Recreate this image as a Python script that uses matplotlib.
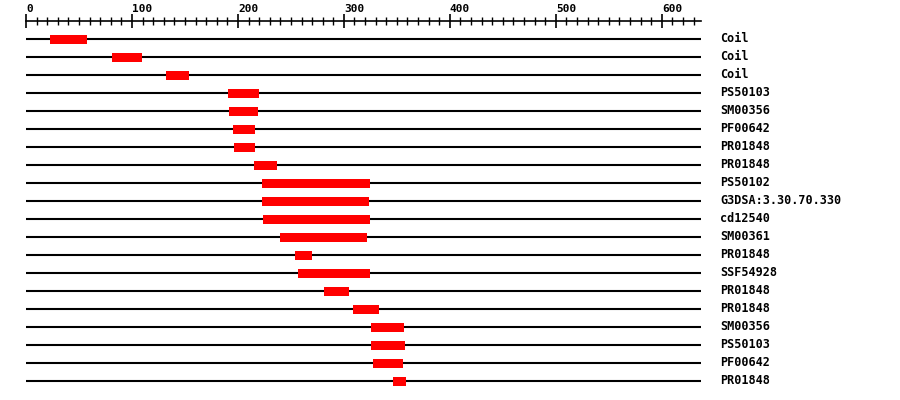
import matplotlib
matplotlib.use("Agg")
import matplotlib.pyplot as plt
from matplotlib.ticker import MultipleLocator

# domain hits along the protein sequence
labels = ["Coil", "Coil", "Coil", "PS50103", "SM00356", "PF00642", "PR01848",
          "PR01848", "PS50102", "G3DSA:3.30.70.330", "cd12540", "SM00361",
          "PR01848", "SSF54928", "PR01848", "PR01848", "SM00356", "PS50103",
          "PF00642", "PR01848"]
starts = [23, 81, 132, 191, 192, 195, 196, 215, 223, 223, 224, 240,
          254, 257, 281, 309, 326, 326, 327, 346]
ends = [58, 109, 154, 220, 219, 216, 216, 237, 325, 324, 325, 322,
        270, 325, 305, 333, 357, 358, 356, 359]
seq_len = 637

fig = plt.figure(figsize=(9, 4), dpi=100)
# axes placed in pixels: x 26..701, axis line at y=21, rows every 18px from y=39
ax = fig.add_axes([26 / 900, 0, 675 / 900, 379 / 400])
ax.set_xlim(0, seq_len)
ax.set_ylim((400 - 39) / 18, (21 - 39) / 18)

rows = list(range(len(labels)))
ax.hlines(rows, 0, seq_len, color="black", linewidth=1.5)
ax.barh(rows, [e - s for s, e in zip(starts, ends)], left=starts, height=0.5,
        color="#ff0000", zorder=3)

# names sit in a column to the right of the track, aligned with each row
mono = {"family": "DejaVu Sans Mono", "weight": "bold", "size": 8.5}
for r, lab in zip(rows, labels):
    ax.text(720 / 900, r, lab, transform=ax.get_yaxis_transform().__class__(
        fig.transFigure, ax.transData), va="center", ha="left", fontdict=mono)

for s in ["left", "right", "bottom"]:
    ax.spines[s].set_visible(False)
ax.spines["top"].set_linewidth(1.2)
ax.set_yticks([])
ax.xaxis.set_ticks_position("top")
ax.xaxis.set_major_locator(MultipleLocator(100))
ax.xaxis.set_minor_locator(MultipleLocator(10))
ax.tick_params(axis="x", which="major", direction="inout", length=10, width=1.2,
               pad=0, labelsize=8)
ax.tick_params(axis="x", which="minor", direction="inout", length=5.5, width=1)
for t in ax.get_xticklabels():
    t.set_horizontalalignment("left")
    t.set_fontfamily("DejaVu Sans Mono")
    t.set_fontweight("bold")

fig.savefig("out.png", dpi=100)
